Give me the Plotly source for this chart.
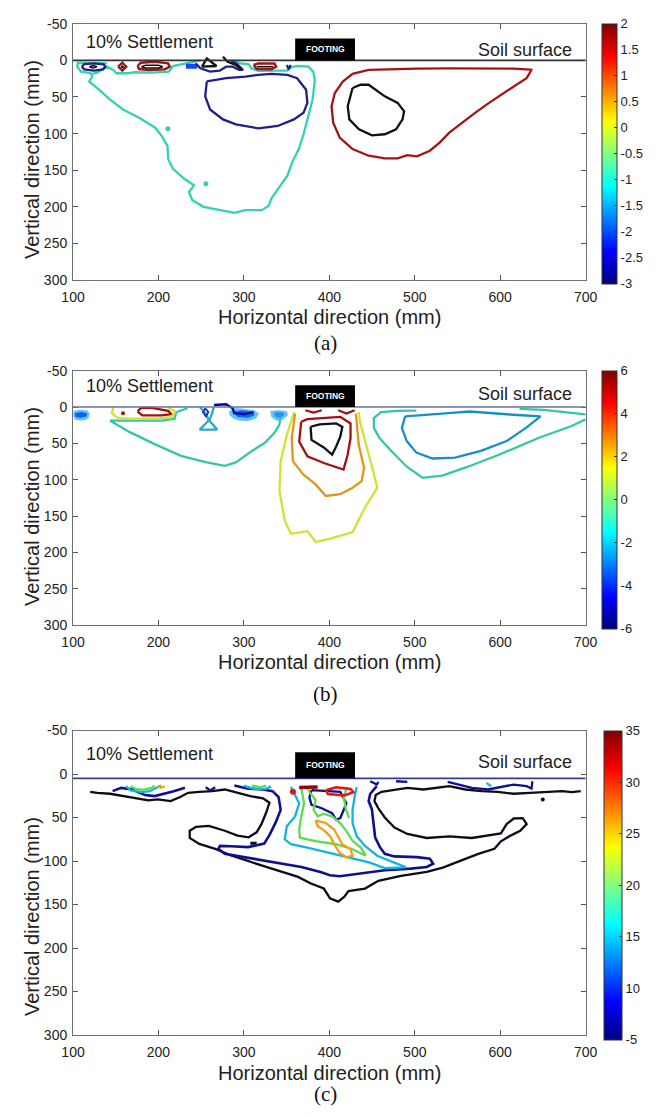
import plotly.graph_objects as go

# ---------------- axes / colorbar data ----------------
X_TICKS = [100, 200, 300, 400, 500, 600, 700]
Y_TICKS = [-50, 0, 50, 100, 150, 200, 250, 300]
Y_LABELS = ["-50", "0", "50", "100", "150", "200", "250", "300"]
CB_A_TICKS = [-3, -2.5, -2, -1.5, -1, -0.5, 0, 0.5, 1, 1.5, 2]
CB_A_LABELS = ["-3", "-2.5", "-2", "-1.5", "-1", "-0.5", "0", "0.5", "1", "1.5", "2"]
CB_B_TICKS = [-6, -4, -2, 0, 2, 4, 6]
CB_B_LABELS = ["-6", "-4", "-2", "0", "2", "4", "6"]
CB_C_TICKS = [5, 10, 15, 20, 25, 30, 35]
CB_C_LABELS = ["-5", "10", "15", "20", "25", "30", "35"]
CB_RANGES = [(-3, 2), (-6, 6), (5, 35)]
SURFACE_DEPTH = [0, 0, 5]
FOOTING_X = [360, 430]
FOOTING_TOP = [-30, -30, -25]

# ---------------- panel (a) contour lines: (horizontal mm, vertical mm) ----------------
A_CYAN_OUTER = [(139.6, 4.1), (105.7, 3.2), (104.9, 8.6), (109.4, 15.3), (120.8, 17.6), (122.6, 22.1), (118.9, 28.8),
                (128.3, 37.8), (143.4, 53.6), (158.5, 67.1), (177.4, 78.4), (196.2, 91.9), (203.8, 103.2), (210.6, 116.7),
                (211.3, 134.7), (217.0, 148.2), (230.2, 161.7), (241.5, 170.7), (235.8, 179.7), (239.6, 191.0),
                (252.8, 200.0), (271.7, 204.5), (288.7, 208.1), (301.9, 204.5), (320.8, 204.5), (329.1, 198.6),
                (332.1, 188.7), (341.5, 173.0), (351.0, 157.2), (356.6, 139.2), (364.2, 121.2), (369.8, 100.9),
                (375.5, 76.1), (380.4, 53.6), (383.0, 26.6), (381.1, 15.3), (375.5, 8.6), (362.3, 7.7), (354.7, 9.5),
                (350.9, 14.0), (342.6, 14.0), (317.0, 14.4), (308.7, 10.8), (305.7, 5.4), (296.2, 4.1), (286.8, 0.0)]
A_CYAN_TOP = [(249.1, 0.0), (234.0, 3.2), (217.0, 7.7), (212.1, 15.3), (192.5, 16.7), (171.7, 16.2), (164.2, 17.6),
              (150.9, 17.6), (147.2, 13.1), (139.6, 8.6), (128.3, 16.7), (122.6, 18.5)]
A_CYAN_DOTS = [(211.0, 93.5), (255.5, 168.5)]
A_NAVY_LOOP = [(256.6, 28.8), (254.7, 49.1), (260.4, 67.1), (275.5, 80.6), (290.6, 87.4), (317.0, 92.8), (339.6, 89.6),
               (358.5, 80.6), (369.8, 71.6), (374.3, 58.1), (372.8, 40.1), (362.3, 24.3), (350.9, 19.8), (332.1, 18.5),
               (317.0, 19.8), (301.9, 22.1), (279.2, 24.3), (260.4, 27.5), (256.6, 28.8)]
A_NAVY_SMALL = [(110.2, 8.6), (113.2, 5.0), (124.5, 4.1), (135.8, 5.4), (137.7, 8.6), (135.1, 12.2), (124.5, 14.0),
                (113.2, 12.2), (110.2, 8.6)]
A_BLACK_SMALL = [(119.0, 8.6), (123.5, 7.0), (128.0, 8.6), (123.5, 10.2), (119.0, 8.6)]
A_RED_DIAMOND = [(152.8, 8.6), (157.7, 3.2), (162.3, 8.6), (157.7, 14.0), (152.8, 8.6)]
A_BLACK_DOT = [(157.7, 8.6)]
A_RED_BLOB1 = [(175.5, 7.7), (179.2, 3.2), (196.2, 1.8), (211.3, 4.1), (213.2, 8.6), (207.5, 12.2), (188.7, 13.1),
               (177.4, 11.7), (175.5, 7.7)]
A_BLACK_IN1 = [(180.0, 8.6), (185.0, 6.5), (200.0, 6.5), (205.0, 8.6), (200.0, 10.5), (185.0, 10.5), (180.0, 8.6)]
A_BLUE_BAR = [(232.1, 8.1), (245.3, 8.1)]
A_NAVY_ZIG = [(243.4, 4.1), (249.1, 10.8), (260.4, 15.3), (271.7, 14.0), (279.2, 8.6), (286.8, 8.6), (294.3, 13.1),
              (298.9, 13.1), (292.5, 5.4), (284.9, 0.0)]
A_BLACK_TRI = [(250.9, 8.6), (256.6, -2.7), (267.9, 7.7), (250.9, 8.6)]
A_BLACK_LINE = [(275.5, -5.0), (281.1, 1.8), (290.6, 6.3), (298.1, 13.1)]
A_RED_BLOB2 = [(311.3, 6.3), (317.0, 4.1), (335.8, 4.1), (337.7, 8.6), (332.1, 12.2), (315.1, 11.7), (311.3, 6.3)]
A_BLACK_IN2 = [(315.1, 8.6), (333.9, 8.6)]
A_NAVY_V = [(350.2, 6.3), (352.5, 12.2), (354.7, 6.3)]
A_RED_RIGHT = [(636.6, 13.1), (630.9, 24.3), (615.8, 35.6), (600.8, 46.8), (585.7, 59.0), (570.6, 71.6), (555.5, 85.1),
               (540.4, 98.6), (529.1, 112.2), (517.7, 123.4), (502.6, 131.1), (491.3, 129.3), (480.0, 133.8),
               (464.9, 133.8), (446.0, 130.2), (427.2, 121.2), (412.1, 105.4), (404.5, 85.1), (402.6, 62.6),
               (406.4, 44.6), (415.8, 28.8), (427.2, 18.5), (446.0, 13.1), (464.9, 12.2), (502.6, 11.3),
               (540.4, 10.8), (578.1, 10.8), (615.8, 11.3), (630.9, 12.2), (637.7, 13.1), (636.6, 13.1)]
A_BLACK_RIGHT = [(427.2, 37.8), (421.5, 62.6), (423.4, 80.6), (434.7, 94.1), (449.8, 102.3), (464.9, 100.9),
                 (478.1, 94.1), (485.7, 80.6), (487.5, 69.4), (480.0, 58.1), (464.9, 49.1), (453.6, 40.1),
                 (446.0, 33.3), (436.6, 33.3), (427.2, 37.8)]

# ---------------- panel (b) ----------------
B_TEAL_LEFT = [(234.0, 1.6), (220.8, 7.0), (218.9, 16.1), (203.8, 18.8), (166.0, 18.8), (143.4, 18.8), (166.0, 34.2),
               (196.2, 51.4), (226.4, 67.2), (256.6, 76.2), (277.4, 80.8), (290.6, 76.2), (309.4, 60.4),
               (324.5, 49.1), (335.8, 35.5), (341.5, 24.2), (342.6, 14.3)]
B_TEAL_HOURGLASS = [(248.3, 0.0), (256.6, 10.6), (258.5, 18.8), (248.3, 31.0), (268.7, 31.0), (259.6, 18.8),
                    (262.3, 9.7), (264.9, 0.0)]
B_NAVY_DIAMOND = [(254.7, 1.6), (252.1, 7.0), (255.5, 12.9), (258.5, 7.0), (254.7, 1.6)]
B_NAVY_E = [(264.9, -2.9), (279.2, -3.8), (286.8, 1.6), (288.7, 8.4), (300.0, 9.7), (311.3, 7.0)]
B_PATCH1_OUT = [(100.5, 6.0), (108.0, 4.5), (117.0, 5.5), (119.0, 10.0), (117.0, 16.0), (110.0, 18.0), (103.0, 17.0),
                (100.5, 12.0)]
B_PATCH1_IN = [(102.0, 9.0), (110.0, 7.5), (116.0, 9.0), (115.0, 13.0), (108.0, 14.0), (103.0, 13.0)]
B_PATCH2_OUT = [(283.0, 6.0), (290.0, 2.0), (300.0, 3.0), (312.0, 5.0), (317.0, 9.0), (314.0, 15.0), (305.0, 18.5),
                (295.0, 18.0), (287.0, 15.0), (283.0, 10.0)]
B_PATCH2_IN = [(287.0, 7.0), (298.0, 5.0), (310.0, 7.0), (312.0, 11.0), (305.0, 14.0), (292.0, 13.0)]
B_PATCH3_OUT = [(331.0, 6.0), (340.0, 5.0), (350.0, 6.0), (351.0, 11.0), (345.0, 17.0), (338.0, 18.0), (332.0, 13.0)]
B_PATCH3_IN = [(336.0, 8.0), (346.0, 8.0), (346.0, 12.0), (340.0, 14.0), (336.0, 12.0)]
B_YELLOW_LEFT = [(147.2, 0.5), (145.3, 8.4), (152.8, 15.2), (166.0, 16.1), (196.2, 16.1), (215.1, 14.3),
                 (219.6, 6.1), (211.3, 0.7)]
B_DRED_LEFT = [(175.5, 6.1), (179.2, 1.6), (190.6, 0.7), (211.3, 5.2), (215.1, 9.7), (203.8, 11.5), (181.1, 11.5),
               (175.5, 6.1)]
B_DRED_DOT = [(158.5, 8.4)]
B_BLACK_CENTER = [(378.1, 27.1), (379.1, 45.2), (393.5, 55.6), (403.2, 65.6), (408.0, 54.3), (412.8, 40.7),
                  (415.2, 27.1), (408.0, 22.5), (388.7, 23.9), (378.1, 27.1)]
B_DRED_CENTER = [(367.1, 20.3), (364.7, 47.5), (374.3, 67.9), (393.5, 77.0), (416.6, 86.0), (421.4, 65.6),
                 (424.8, 43.0), (424.8, 22.5), (412.8, 13.5), (393.5, 14.8), (374.3, 16.6), (367.1, 20.3)]
B_DRED_ARC1 = [(371.9, 4.4), (381.5, 7.6), (391.1, 4.4)]
B_DRED_ARC2 = [(410.4, 4.4), (420.0, 8.9), (429.6, 4.4)]
B_ORANGE_CENTER = [(359.9, 8.9), (356.0, 42.9), (357.4, 74.7), (369.5, 92.8), (383.9, 106.4), (395.9, 122.3),
                   (412.8, 120.0), (427.2, 111.0), (437.8, 101.9), (440.7, 83.8), (434.4, 52.0), (432.0, 24.8),
                   (431.1, 8.9)]
B_YELLOW_CENTER = [(358.9, 6.7), (350.2, 38.4), (343.0, 74.7), (341.6, 115.5), (347.8, 156.3), (355.0, 174.4),
                   (374.3, 170.8), (383.9, 185.8), (400.8, 181.2), (427.2, 172.2), (441.7, 138.2), (456.1, 111.0),
                   (450.3, 83.8), (441.7, 47.5), (435.9, 20.3), (434.4, 6.7)]
B_TEAL_RIGHT = [(501.9, 4.8), (479.2, 5.2), (460.4, 7.0), (452.1, 15.2), (452.1, 28.7), (458.5, 42.3), (471.7, 59.5),
                (490.6, 82.1), (509.4, 97.5), (532.1, 94.3), (562.3, 82.1), (600.0, 64.9), (645.3, 42.3),
                (683.0, 26.5), (700.0, 17.0)]
B_TEAL_RIGHT_TOP = [(622.6, 2.5), (650.0, 4.0), (675.5, 7.0), (700.0, 10.0)]
B_BLUE_RIGHT = [(488.7, 12.9), (484.9, 28.7), (490.6, 46.8), (501.9, 62.7), (520.8, 70.8), (547.2, 69.5),
                (577.4, 60.4), (607.5, 46.8), (630.2, 28.7), (647.2, 12.9), (615.1, 10.6), (577.4, 7.5),
                (564.2, 6.1), (539.6, 8.4), (513.2, 10.6), (494.3, 11.5), (488.7, 12.9)]

# ---------------- panel (c) ----------------
C_BLACK = [(120.1, 20.5), (128.4, 21.6), (143.3, 22.7), (158.2, 25.4), (176.9, 28.0), (188.1, 30.3), (199.3, 29.2),
           (214.2, 31.1), (225.4, 26.5), (234.7, 21.6), (247.8, 20.5), (262.7, 19.7), (277.6, 17.8), (292.5, 21.6),
           (307.5, 25.4), (322.4, 28.0), (329.9, 33.0), (326.1, 44.3), (320.5, 57.6), (314.9, 67.0), (305.6, 72.7),
           (292.5, 70.8), (277.6, 65.2), (259.0, 59.5), (244.0, 60.6), (236.6, 65.2), (236.6, 73.5), (247.8, 80.3),
           (266.4, 86.0), (285.1, 93.6), (307.5, 101.1), (326.1, 106.8), (344.8, 112.5), (363.4, 118.2),
           (378.4, 125.8), (393.5, 131.6), (400.8, 142.9), (410.4, 146.7), (417.6, 141.0), (422.4, 134.6),
           (441.7, 131.6), (457.4, 122.7), (483.8, 117.0), (514.0, 112.5), (532.8, 107.6), (551.7, 100.0),
           (574.3, 91.7), (593.2, 86.0), (600.8, 77.3), (612.1, 70.8), (623.4, 65.2), (630.9, 57.6), (626.4, 50.8),
           (615.8, 51.1), (607.5, 57.6), (600.8, 68.2), (585.7, 70.8), (566.8, 73.5), (540.4, 71.6), (514.0, 73.5),
           (491.3, 68.9), (476.2, 61.4), (464.9, 50.0), (457.4, 39.4), (452.8, 31.1), (454.3, 24.2), (461.1, 20.5),
           (472.5, 18.6), (491.3, 15.9), (510.2, 17.8), (525.3, 15.9), (540.4, 14.0), (559.2, 17.8), (578.1, 19.7),
           (597.0, 20.5), (615.8, 22.7), (634.7, 21.6), (653.6, 20.5), (672.5, 19.7), (683.8, 20.8), (694.3, 19.7)]
C_BLACK_DASH = [(307.5, 79.5), (314.9, 79.5)]
C_BLACK_DOT = [(649.8, 29.2)]
C_NAVY_MAIN = [(288.8, 13.3), (303.7, 16.7), (322.4, 17.8), (333.6, 19.7), (340.6, 26.5), (343.0, 41.2), (337.5, 55.0),
               (330.0, 70.0), (323.8, 80.0), (305.0, 84.0), (285.0, 83.0), (272.0, 82.6), (270.1, 86.0), (277.6, 91.7),
               (300.0, 95.5), (322.4, 99.2), (344.8, 103.0), (367.2, 106.8), (389.6, 112.5), (400.7, 116.3),
               (412.1, 117.4), (434.7, 114.4), (464.9, 110.6), (495.1, 108.7), (514.0, 106.8), (521.5, 103.0),
               (517.7, 97.3), (502.6, 95.5), (476.2, 94.7), (464.9, 91.7), (459.2, 84.1), (453.6, 72.7),
               (451.7, 53.8), (449.8, 40.5), (446.0, 31.1), (447.9, 22.7), (455.5, 14.0)]
C_NAVY_TOPLEFT = [(146.3, 19.7), (156.3, 15.9), (169.4, 17.8), (184.3, 24.2), (195.5, 25.4), (206.7, 22.7),
                  (217.9, 19.7), (231.0, 15.9)]
C_NAVY_SMALL = [(255.2, 15.2), (260.8, 18.9), (266.4, 15.2)]
C_NAVY_INNER = [(379.1, 18.6), (412.8, 20.5), (420.0, 33.6), (412.8, 50.6), (408.0, 52.5), (403.2, 45.0),
                (391.1, 39.3), (379.1, 35.5), (376.7, 26.9), (379.1, 18.6)]
C_NAVY_TR1 = [(538.5, 9.1), (551.7, 12.1), (566.8, 15.9), (585.7, 17.8), (600.8, 15.2), (615.8, 12.1), (630.9, 14.0),
              (636.6, 16.7), (637.7, 8.3)]
C_NAVY_TR2 = [(447.9, 8.3), (455.5, 12.1), (457.4, 9.1)]
C_NAVY_TR3 = [(478.1, 8.3), (491.3, 9.1)]
C_CYAN_MAIN = [(355.0, 14.8), (364.7, 33.6), (359.9, 48.7), (350.2, 60.0), (347.8, 75.1), (355.0, 80.7), (374.3, 84.5),
               (398.3, 90.2), (422.4, 95.8), (446.5, 101.5), (465.7, 108.3), (489.8, 107.1), (475.3, 101.5),
               (456.1, 93.9), (441.7, 82.6), (432.0, 71.3), (427.2, 56.3), (427.2, 41.2), (429.6, 26.1), (432.0, 14.8)]
C_CYAN_TOPLEFT = [(161.9, 14.0), (167.5, 18.9), (180.6, 20.8), (190.0, 19.7), (197.4, 15.9), (203.0, 13.3)]
C_CYAN_MID = [(300.0, 13.3), (311.2, 17.0), (326.1, 17.0), (331.7, 14.0)]
C_CYAN_TR = [(583.8, 10.2), (589.4, 14.0)]
C_GREEN_MAIN = [(367.1, 15.6), (370.4, 33.6), (367.1, 48.7), (364.7, 63.8), (365.6, 73.2), (383.9, 77.0),
                (408.0, 80.7), (427.2, 86.4), (442.6, 93.9), (436.8, 84.5), (427.2, 77.0), (420.0, 65.7),
                (412.8, 56.3), (403.2, 48.7), (393.5, 45.7), (386.3, 48.7), (381.5, 41.2), (383.9, 29.9),
                (376.7, 20.5), (374.3, 15.6)]
C_GREEN_RIGHT = [(420.5, 14.8), (417.0, 26.1), (419.0, 39.3), (423.0, 50.6)]
C_GREEN_TOPLEFT = [(167.5, 14.0), (173.1, 17.0), (182.5, 18.2), (191.8, 15.9), (195.5, 13.3)]
C_GREEN_MID = [(309.3, 13.3), (318.7, 15.2), (326.1, 13.3)]
C_ORANGE = [(383.9, 53.2), (395.9, 56.3), (405.6, 63.8), (410.4, 73.2), (415.2, 80.7), (424.8, 86.4), (427.2, 93.9),
            (420.0, 95.8), (411.8, 90.2), (405.6, 80.7), (400.8, 71.3), (393.5, 64.5), (386.3, 60.0), (383.9, 53.2)]
C_ORANGE_TOPLEFT = [(198.5, 14.0), (203.0, 15.9), (207.5, 14.0)]
C_RED = [(396.0, 18.6), (408.0, 15.2), (424.8, 17.1), (428.2, 20.8), (417.6, 24.6), (398.3, 23.1), (396.0, 18.6)]
C_DRED_BAR = [(364.7, 15.6), (386.3, 14.8)]
C_DRED_BLOB = [(357.4, 20.5)]

# ---------------- styling ----------------
SANS = "Liberation Sans, Arial, sans-serif"
SERIF = "Liberation Serif, Times New Roman, serif"
W, H = 669, 1117
PX_L, PX_R = 63.3, 595.0
PANEL_PX = [(16, 276), (368, 626), (733, 1042)]
CBAR_X = [612, 612, 614]
CBAR_W = [15, 15, 18]
XTITLE_PX = [313, 663, 1080]
YTITLE_PX = [154, 506, 922]
LABEL_PX = [340, 696, 1102]
SETTLE_Y = [-25, -29.5, -23.5]
SOIL_Y = [-14, -17.5, -14]
SURF_COLORS = ["#333333", "#6b7096", "#3a3a8c"]
JET = [[0, "rgb(0,0,128)"], [0.125, "rgb(0,0,255)"], [0.375, "rgb(0,255,255)"],
       [0.625, "rgb(255,255,0)"], [0.875, "rgb(255,0,0)"], [1, "rgb(128,0,0)"]]

fig = go.Figure()


def ax(i):
    return ("x" if i == 0 else f"x{i+1}"), ("y" if i == 0 else f"y{i+1}")


def line(i, pts, color, width=2.3):
    xa, ya = ax(i)
    fig.add_trace(go.Scatter(x=[p[0] for p in pts], y=[p[1] for p in pts], mode="lines",
                             line=dict(color=color, width=width), xaxis=xa, yaxis=ya,
                             hoverinfo="skip", showlegend=False))


def dots(i, pts, color, size=5):
    xa, ya = ax(i)
    fig.add_trace(go.Scatter(x=[p[0] for p in pts], y=[p[1] for p in pts], mode="markers",
                             marker=dict(color=color, size=size), xaxis=xa, yaxis=ya,
                             hoverinfo="skip", showlegend=False))


def patch(i, pts, color):
    xa, ya = ax(i)
    fig.add_trace(go.Scatter(x=[p[0] for p in pts], y=[p[1] for p in pts], mode="lines", fill="toself",
                             fillcolor=color, line=dict(color=color, width=1), xaxis=xa, yaxis=ya,
                             hoverinfo="skip", showlegend=False))


# panel a
CY, NV, DR, BK, BL = "#33d1b5", "#1f1f8a", "#a31515", "#111111", "#1446ff"
line(0, A_CYAN_OUTER, CY); line(0, A_CYAN_TOP, CY); dots(0, A_CYAN_DOTS, CY, 5)
line(0, A_NAVY_LOOP, NV); line(0, A_NAVY_SMALL, NV); line(0, A_BLACK_SMALL, BK, 1.5)
line(0, A_RED_DIAMOND, DR); dots(0, A_BLACK_DOT, BK, 3)
line(0, A_RED_BLOB1, DR, 2.5); line(0, A_BLACK_IN1, BK, 1.5)
line(0, A_BLUE_BAR, BL, 5)
line(0, A_NAVY_ZIG, NV); line(0, A_BLACK_TRI, BK); line(0, A_BLACK_LINE, BK)
line(0, A_RED_BLOB2, DR, 2.5); line(0, A_BLACK_IN2, BK, 1.5); line(0, A_NAVY_V, NV)
line(0, A_RED_RIGHT, DR); line(0, A_BLACK_RIGHT, BK)

# panel b
TL, BU, YE, OR, DR2 = "#35c7a5", "#1a8fc4", "#d4e034", "#e0961a", "#a01212"
patch(1, B_PATCH1_OUT, "#5cc8f2"); patch(1, B_PATCH1_IN, "#1060ff")
patch(1, B_PATCH2_OUT, "#5cc8f2"); patch(1, B_PATCH2_IN, "#1060ff")
patch(1, B_PATCH3_OUT, "#5cc8f2"); patch(1, B_PATCH3_IN, "#2f8cf0")
line(1, B_NAVY_E, "#0a0a9a", 2.5)
line(1, B_TEAL_LEFT, TL); line(1, B_TEAL_HOURGLASS, "#2aa8c8"); line(1, B_NAVY_DIAMOND, "#1030c0", 1.8)
line(1, B_YELLOW_LEFT, YE); line(1, B_DRED_LEFT, DR2); dots(1, B_DRED_DOT, DR2, 4)
line(1, B_YELLOW_CENTER, YE); line(1, B_ORANGE_CENTER, OR); line(1, B_DRED_CENTER, DR2)
line(1, B_BLACK_CENTER, BK); line(1, B_DRED_ARC1, DR2); line(1, B_DRED_ARC2, DR2)
line(1, B_TEAL_RIGHT, TL); line(1, B_TEAL_RIGHT_TOP, TL); line(1, B_BLUE_RIGHT, BU)

# panel c
CB, CN, CC, CG, CO, CR, CD = "#0d0d1a", "#10108f", "#12b5e0", "#5cdc55", "#eea012", "#e31414", "#9a0000"
line(2, C_BLACK, CB); line(2, C_BLACK_DASH, CB, 3); dots(2, C_BLACK_DOT, CB, 4)
line(2, C_NAVY_MAIN, CN, 2.6); line(2, C_NAVY_TOPLEFT, CN, 2.6); line(2, C_NAVY_SMALL, CN)
line(2, C_NAVY_INNER, CN); line(2, C_NAVY_TR1, CN); line(2, C_NAVY_TR2, CN); line(2, C_NAVY_TR3, CN)
line(2, C_CYAN_MAIN, CC); line(2, C_CYAN_TOPLEFT, CC); line(2, C_CYAN_MID, CC); line(2, C_CYAN_TR, CC)
line(2, C_GREEN_MAIN, CG); line(2, C_GREEN_RIGHT, CG); line(2, C_GREEN_TOPLEFT, CG); line(2, C_GREEN_MID, CG)
line(2, C_ORANGE, CO); line(2, C_ORANGE_TOPLEFT, CO)
line(2, C_RED, CR, 2.5); line(2, C_DRED_BAR, CD, 3.5); dots(2, C_DRED_BLOB, CR, 6)

# colorbars
CB_TICKS = [(CB_A_TICKS, CB_A_LABELS), (CB_B_TICKS, CB_B_LABELS), (CB_C_TICKS, CB_C_LABELS)]
for i, (t, b) in enumerate(PANEL_PX):
    xa, ya = ax(i)
    lo, hi = CB_RANGES[i]
    tv, tt = CB_TICKS[i]
    fig.add_trace(go.Scatter(
        x=[-1000], y=[-1000], mode="markers", xaxis=xa, yaxis=ya, hoverinfo="skip", showlegend=False,
        marker=dict(color=[lo], colorscale=JET, cmin=lo, cmax=hi, opacity=0, showscale=True,
                    colorbar=dict(x=CBAR_X[i] / W, xanchor="left", y=1 - t / H, yanchor="top",
                                  len=b - t, lenmode="pixels", thickness=CBAR_W[i], thicknessmode="pixels",
                                  xpad=0, ypad=0, outlinewidth=1, outlinecolor="#333333",
                                  ticks="inside", ticklen=3, tickcolor="#333333",
                                  tickvals=tv, ticktext=tt,
                                  tickfont=dict(family=SANS, size=13, color="#222222")))))

layout = dict(width=W, height=H, margin=dict(l=0, r=0, t=0, b=0), paper_bgcolor="white",
              plot_bgcolor="white", showlegend=False)
shapes, annotations = [], []
for i, (t, b) in enumerate(PANEL_PX):
    xa, ya = ax(i)
    xkey = "xaxis" if i == 0 else f"xaxis{i+1}"
    ykey = "yaxis" if i == 0 else f"yaxis{i+1}"
    common = dict(ticks="inside", ticklen=5, tickcolor="#555555", showline=True, linecolor="#707070",
                  linewidth=1, mirror="ticks", showgrid=False, zeroline=False, fixedrange=True,
                  tickfont=dict(family=SANS, size=14, color="#222222"))
    layout[xkey] = dict(domain=[PX_L / W, PX_R / W], range=[100, 700], tickvals=X_TICKS, anchor=ya,
                        ticklabelstandoff=4, **common)
    layout[ykey] = dict(domain=[1 - b / H, 1 - t / H], range=[300, -50], tickvals=Y_TICKS, ticktext=Y_LABELS,
                        anchor=xa, ticklabelstandoff=2, **common)
    sd = SURFACE_DEPTH[i]
    shapes.append(dict(type="line", xref=xa, yref=ya, x0=100, x1=700, y0=sd, y1=sd,
                       line=dict(color=SURF_COLORS[i], width=1.6)))
    shapes.append(dict(type="rect", xref=xa, yref=ya, x0=FOOTING_X[0], x1=FOOTING_X[1], y0=FOOTING_TOP[i], y1=sd,
                       fillcolor="black", line=dict(color="black", width=0)))
    annotations.append(dict(xref=xa, yref=ya, x=sum(FOOTING_X) / 2, y=(FOOTING_TOP[i] + sd) / 2, text="<b>FOOTING</b>",
                            showarrow=False, font=dict(family=SANS, size=8.5, color="white")))
    annotations.append(dict(xref=xa, yref=ya, x=113, y=SETTLE_Y[i], text="10% Settlement", xanchor="left",
                            showarrow=False, font=dict(family=SANS, size=18, color="#222222")))
    annotations.append(dict(xref=xa, yref=ya, x=686, y=SOIL_Y[i], text="Soil surface", xanchor="right",
                            showarrow=False, font=dict(family=SANS, size=18, color="#222222")))
    annotations.append(dict(xref="paper", yref="paper", x=(PX_L + PX_R) / 2 / W, y=1 - XTITLE_PX[i] / H,
                            text="Horizontal direction (mm)", showarrow=False, yanchor="middle",
                            font=dict(family=SANS, size=20, color="#222222")))
    annotations.append(dict(xref="paper", yref="paper", x=21 / W, y=1 - YTITLE_PX[i] / H, textangle=-90,
                            text="Vertical direction (mm)", showarrow=False, xanchor="center", yanchor="middle",
                            font=dict(family=SANS, size=20, color="#222222")))
    annotations.append(dict(xref="paper", yref="paper", x=325 / W, y=1 - LABEL_PX[i] / H,
                            text="(" + "abc"[i] + ")", showarrow=False, yanchor="middle",
                            font=dict(family=SERIF, size=21, color="#111111")))
layout["shapes"] = shapes
layout["annotations"] = annotations
fig.update_layout(**layout)
fig.write_html("out.html")
